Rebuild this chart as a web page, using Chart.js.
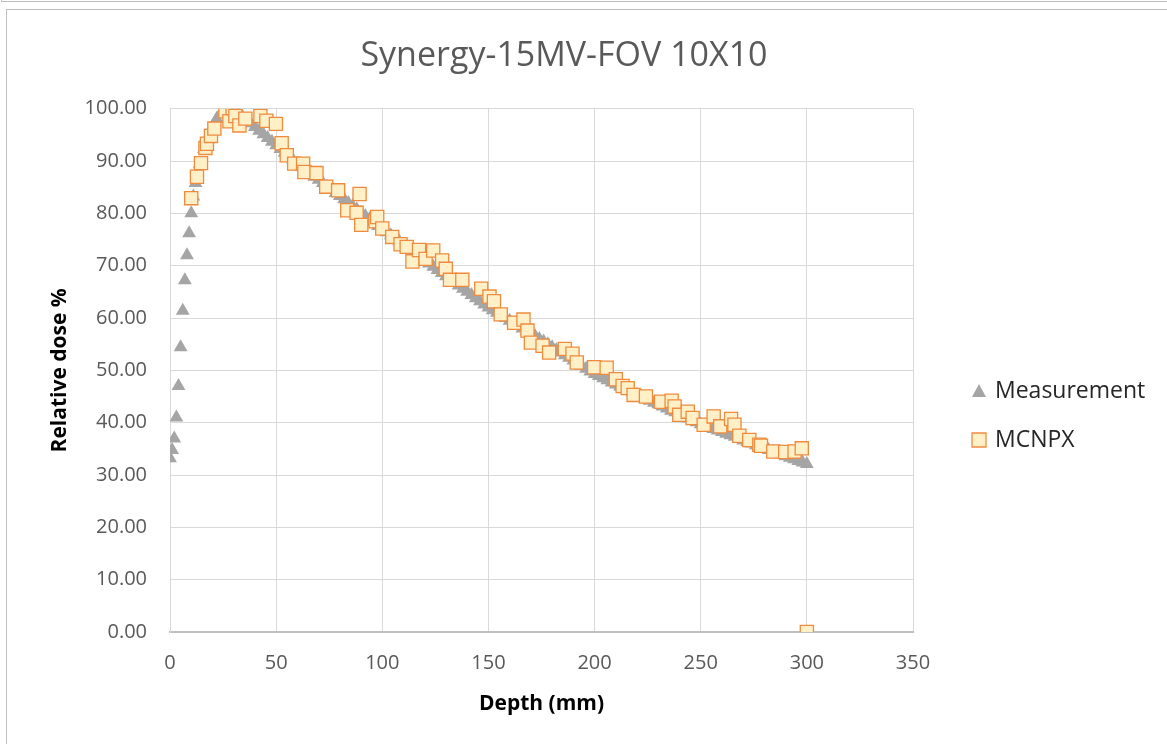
<!DOCTYPE html>
<html>
<head>
<meta charset="utf-8">
<title>Synergy-15MV-FOV 10X10</title>
<script src="https://cdn.jsdelivr.net/npm/chart.js@4.4.1/dist/chart.umd.min.js"></script>
<style>
  html, body { margin: 0; padding: 0; background: #fff; overflow: hidden; }
  .topFrame { position: absolute; left: 1px; top: -10px; width: 1170px; height: 10px; border: 1px solid #bfbfbf; }
  .box { position: absolute; left: 6px; top: 9px; width: 1170px; height: 745px; border: 1px solid #bfbfbf; }
  canvas { position: absolute; left: 0; top: 0; }
</style>
</head>
<body>
<div class="topFrame"></div>
<div class="box"></div>
<canvas id="pdd" width="1167" height="744"></canvas>
<script>
// measured depth dose (mm, %)
let measDepth = [0,1,2,3,4,5,6,7,8,9,10,11,12,14,16,18,20,22,24,26,28,30,32,34,36,38,40,42,44,46,48,50,
  52,54,56,58,60,62,64,66,68,70,72,74,76,78,80,82,84,86,88,90,92,94,96,98,100,
  102,104,106,108,110,112,114,116,118,120,122,124,126,128,130,132,134,136,138,140,142,144,146,148,150,
  152,154,156,158,160,162,164,166,168,170,172,174,176,178,180,182,184,186,188,190,192,194,196,198,200,
  202,204,206,208,210,212,214,216,218,220,222,224,226,228,230,232,234,236,238,240,242,244,246,248,250,
  252,254,256,258,260,262,264,266,268,270,272,274,276,278,280,282,284,286,288,290,292,294,296,298,300];
let measDose = [33.2,34.8,37.0,41.0,47.0,54.4,61.4,67.2,72.0,76.2,80.0,83.2,85.8,
  89.4,92.3,94.7,96.6,98.1,99.2,99.8,100.0,
  99.6,99.1,98.5,97.9,97.2,96.5,95.8,95.1,94.4,93.7,93.0,92.3,91.6,90.9,90.2,89.5,
  88.9,88.3,87.6,87.0,86.4,85.8,85.1,84.5,83.9,83.3,82.7,82.0,81.4,80.8,80.1,79.5,78.9,78.3,77.6,77.0,
  76.4,75.8,75.2,74.6,74.0,73.4,72.8,72.2,71.6,71.0,70.4,69.8,69.2,68.6,68.0,67.4,66.8,66.2,65.6,65.0,64.4,63.8,63.2,62.6,62.0,
  61.5,61.0,60.5,60.0,59.5,59.0,58.5,58.0,57.5,57.0,56.5,56.0,55.5,55.0,54.4,53.9,53.4,52.9,52.4,51.9,51.4,50.9,50.3,49.8,49.3,
  48.9,48.5,48.1,47.7,47.3,46.9,46.6,46.2,45.8,45.4,45.0,44.6,44.2,43.8,43.5,43.1,42.7,42.3,42.0,41.6,41.2,40.8,40.5,40.1,39.7,
  39.4,39.1,38.8,38.5,38.2,37.9,37.6,37.3,37.0,36.6,36.3,36.0,35.7,35.4,35.1,34.8,34.5,34.2,33.9,33.6,33.3,33.0,32.7,32.4,32.1];

// MCNPX simulation
let mcDepth = [10.0,12.7,14.6,16.7,17.4,19.3,20.9,26.1,28.0,29.5,30.8,32.7,35.5,42.6,45.4,49.9,52.6,55.0,58.5,
  62.7,63.3,69.0,73.6,79.2,83.5,87.9,89.3,90.1,96.8,97.6,100.0,104.7,108.6,111.5,114.2,117.3,120.4,124.0,
  128.2,129.9,131.9,137.7,146.6,150.5,152.6,155.8,162.1,166.5,168.4,170.0,175.5,178.6,186.0,189.6,191.6,
  199.8,205.7,210.0,213.2,215.6,218.4,224.2,231.3,236.3,237.7,239.9,243.9,246.2,251.4,256.1,259.2,264.3,
  265.9,268.2,272.9,277.6,278.4,284.2,289.8,294.2,297.6,300.0];
let mcDose = [82.9,87.0,89.6,92.5,93.3,94.8,96.2,99.5,97.6,100.1,98.6,96.8,98.1,98.6,97.7,97.1,93.4,91.1,89.5,
  89.5,87.9,87.7,85.1,84.4,80.6,80.1,83.7,77.8,78.5,79.3,77.1,75.5,74.1,73.6,70.8,73.0,71.3,72.9,
  71.0,69.4,67.3,67.3,65.6,64.1,63.2,60.7,59.1,59.7,57.6,55.3,54.7,53.4,54.1,53.2,51.5,
  50.6,50.5,48.3,47.0,46.6,45.3,45.0,44.0,44.2,43.1,41.5,42.1,40.9,39.6,41.2,39.3,40.7,
  39.6,37.5,36.7,35.8,35.6,34.5,34.4,34.5,35.1,0];

let chartTitle = 'Synergy-15MV-FOV 10X10';
let seriesNames = ['Measurement', 'MCNPX'];
let xTicks = [0, 50, 100, 150, 200, 250, 300, 350];
let yTicks = [0, 10, 20, 30, 40, 50, 60, 70, 80, 90, 100];

function toPoints(xs, ys){
    let pts = [];
    for (let i = 0; i < xs.length; i++) {
        pts.push({x: xs[i], y: ys[i]});
    }
    return pts;
}

Chart.defaults.font.family = '"Open Sans", sans-serif';

// title centred on the whole frame + legend on the right, like the Excel chart
const frameText = {
    id: 'frameText',
    afterDraw(chart) {
        const ctx = chart.ctx;
        ctx.save();
        ctx.font = '34px "Open Sans", sans-serif';
        ctx.fillStyle = '#595959';
        ctx.textAlign = 'center';
        ctx.textBaseline = 'middle';
        ctx.fillText(chartTitle, 564, 56);

        const x = chart.chartArea.right + 66;
        const rows = [391, 440];
        ctx.font = '23px "Open Sans", sans-serif';
        ctx.textAlign = 'left';
        chart.data.datasets.forEach(ds => {
            let y = rows[ds.legendRow];
            ctx.fillStyle = ds.backgroundColor;
            ctx.strokeStyle = ds.borderColor;
            ctx.lineWidth = ds.borderWidth;
            ctx.beginPath();
            if (ds.pointStyle === 'triangle') {
                ctx.moveTo(x, y - 7);
                ctx.lineTo(x + 7, y + 6);
                ctx.lineTo(x - 7, y + 6);
                ctx.closePath();
                ctx.fill();
            } else {
                ctx.rect(x - 7, y - 7, 14, 14);
                ctx.fill();
                ctx.stroke();
            }
            ctx.fillStyle = '#262626';
            ctx.fillText(ds.label, x + 16, y);
        });
        ctx.restore();
    }
};

new Chart(document.getElementById('pdd'), {
    type: 'scatter',
    data: {
        datasets: [{
            label: seriesNames[1],
            data: toPoints(mcDepth, mcDose),
            pointStyle: 'rect',
            pointRadius: 9.3,
            backgroundColor: '#fff0c8',
            borderColor: '#f08a3c',
            borderWidth: 1.3,
            order: 0,
            legendRow: 1
        }, {
            label: seriesNames[0],
            data: toPoints(measDepth, measDose),
            pointStyle: 'triangle',
            pointRadius: 8,
            backgroundColor: '#a5a5a5',
            borderColor: '#a5a5a5',
            borderWidth: 0,
            order: 1,
            legendRow: 0
        }]
    },
    options: {
        responsive: false,
        animation: false,
        devicePixelRatio: 1,
        layout: { padding: { left: 43.4, right: 254, top: 108.7, bottom: 23.4 } },
        plugins: {
            legend: { display: false },
            tooltip: { enabled: false },
            title: { display: false }
        },
        scales: {
            x: {
                type: 'linear',
                min: 0,
                max: 350,
                afterBuildTicks: s => { s.ticks = xTicks.map(v => ({value: v})); },
                afterFit: s => { s.height = 744 - 632 - 23.4; },
                ticks: { color: '#595959', font: { size: 20 }, padding: 19 },
                grid: { color: '#d9d9d9', drawTicks: false },
                border: { color: '#bfbfbf', width: 2 },
                title: {
                    display: true,
                    text: 'Depth (mm)',
                    color: '#000',
                    font: { size: 21, weight: 'bold' }
                }
            },
            y: {
                type: 'linear',
                min: 0,
                max: 100,
                afterBuildTicks: s => { s.ticks = yTicks.map(v => ({value: v})); },
                afterFit: s => { s.width = 170 - 43.4; },
                ticks: { color: '#595959', font: { size: 20 }, padding: 23, callback: v => v.toFixed(2) },
                grid: { color: '#d9d9d9', drawTicks: false },
                border: { color: '#d9d9d9', width: 1 },
                title: {
                    display: true,
                    text: 'Relative dose %',
                    color: '#000',
                    font: { size: 21, weight: 'bold' }
                }
            }
        }
    },
    plugins: [frameText]
});
</script>
</body>
</html>
